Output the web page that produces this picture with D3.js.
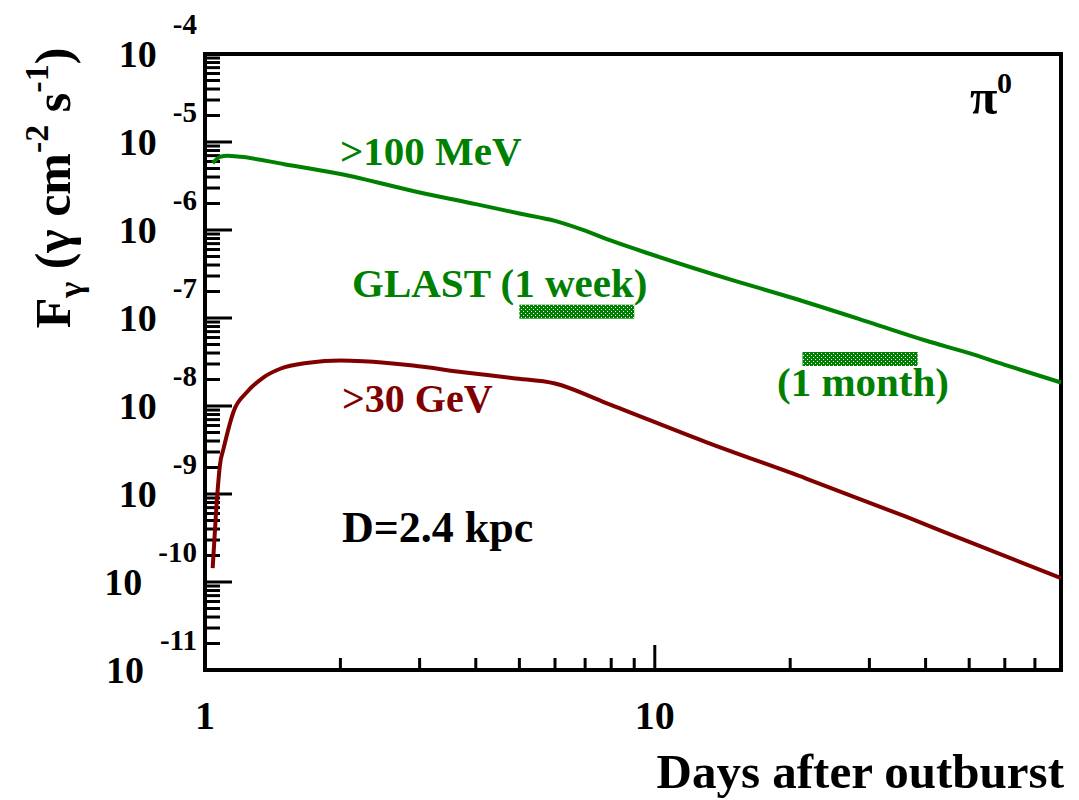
<!DOCTYPE html>
<html>
<head>
<meta charset="utf-8">
<script src="https://cdn.jsdelivr.net/npm/d3@7"></script>
<style>
  html, body { margin: 0; padding: 0; background: #fff; }
  svg { display: block; font-family: "Liberation Serif", "Times New Roman", serif; font-weight: bold; }
</style>
</head>
<body>
<svg id="chart" width="1079" height="800"></svg>
<script>
// Days after outburst and integrated photon flux (photons cm^-2 s^-1)
const greenDays = [1.04, 1.08, 1.12, 1.2, 1.5, 2, 3, 4, 5, 6, 7, 8, 10, 15, 20, 30, 40, 50, 60, 80];
const greenFlux = [5.75e-6, 6.78e-6, 6.97e-6, 6.78e-6, 5.60e-6, 4.32e-6, 2.67e-6, 1.97e-6, 1.54e-6, 1.27e-6,
                   9.82e-7, 7.55e-7, 5.13e-7, 2.66e-7, 1.72e-7, 8.93e-8, 5.55e-8, 3.98e-8, 2.94e-8, 1.85e-8];

const redDays = [1.04, 1.06, 1.08, 1.1, 1.16, 1.24, 1.35, 1.47, 1.7, 2, 2.25, 2.9, 3.75, 4.85, 6.0, 7.8, 13, 21.7, 36.3, 51, 80];
const redFlux = [1.44e-10, 7.1e-10, 2.17e-9, 3.3e-9, 8.9e-9, 1.44e-8, 2.12e-8, 2.65e-8, 3.10e-8, 3.29e-8, 3.23e-8,
                 2.88e-8, 2.42e-8, 2.07e-8, 1.80e-8, 1.08e-8, 3.89e-9, 1.50e-9, 5.48e-10, 2.74e-10, 1.11e-10];

// GLAST sensitivity for one week and one month of exposure
const glastNames = ["1 week", "1 month"];
const glastStart = [5, 21.3];
const glastEnd = [9, 38.4];
const glastFlux = [1.18e-7, 3.42e-8];

// Axis ticks
const xMinorTicks = [2, 3, 4, 5, 6, 7, 8, 9, 20, 30, 40, 50, 60, 70, 80];
const xMajorTicks = [1, 10];
const xTickLabels = ["1", "10"];
const yExponents = [-11, -10, -9, -8, -7, -6, -5, -4];

const svg = d3.select("#chart");
const GREEN = "#008000", RED = "#800000";

const x = d3.scaleLog().domain([1, 80]).range([205, 1061]);
const y = d3.scaleLog().domain([1e-11, 1e-4]).range([670, 54]);

// crosshatch fill for the sensitivity bands
const defs = svg.append("defs");
const pat = defs.append("pattern").attr("id", "hatch").attr("patternUnits", "userSpaceOnUse")
  .attr("width", 4).attr("height", 4);
pat.append("rect").attr("width", 4).attr("height", 4).attr("fill", GREEN);
pat.append("rect").attr("x", 1).attr("y", 1).attr("width", 1).attr("height", 1).attr("fill", "#fff");
pat.append("rect").attr("x", 3).attr("y", 3).attr("width", 1).attr("height", 1).attr("fill", "#fff");

// y minor ticks: 2..9 in each decade
const yMinor = [];
yExponents.slice(0, -1).forEach(e => { for (let m = 2; m <= 9; m++) yMinor.push(m * Math.pow(10, e)); });
const yMajor = yExponents.map(e => Math.pow(10, e));

const axisG = svg.append("g").attr("stroke", "#000").attr("stroke-width", 3);
axisG.selectAll("line.ymin").data(yMinor).join("line")
  .attr("x1", x(1)).attr("x2", x(1) + 15).attr("y1", d => y(d)).attr("y2", d => y(d));
axisG.selectAll("line.ymaj").data(yMajor).join("line")
  .attr("x1", x(1)).attr("x2", x(1) + 27).attr("y1", d => y(d)).attr("y2", d => y(d));
axisG.selectAll("line.xmin").data(xMinorTicks).join("line")
  .attr("x1", d => x(d)).attr("x2", d => x(d)).attr("y1", y(1e-11)).attr("y2", y(1e-11) - 12);
axisG.selectAll("line.xmaj").data(xMajorTicks).join("line")
  .attr("x1", d => x(d)).attr("x2", d => x(d)).attr("y1", y(1e-11)).attr("y2", y(1e-11) - 25);

// frame
svg.append("rect").attr("x", x(1)).attr("y", y(1e-4)).attr("width", x(80) - x(1)).attr("height", y(1e-11) - y(1e-4))
  .attr("fill", "none").attr("stroke", "#000").attr("stroke-width", 4);

// y tick labels: 10 with superscript exponent
yExponents.forEach(e => {
  const yy = y(Math.pow(10, e));
  const sup = svg.append("text").attr("x", 197).attr("y", yy - 20).attr("text-anchor", "end")
    .attr("font-size", 29).text(String(e));
  const w = sup.node().getComputedTextLength();
  svg.append("text").attr("x", 197 - w - 16).attr("y", yy + 13).attr("text-anchor", "end")
    .attr("font-size", 38).text("10");
});

// x tick labels
svg.selectAll("text.xlab").data(xMajorTicks).join("text")
  .attr("x", d => x(d)).attr("y", 729).attr("text-anchor", "middle").attr("font-size", 40)
  .text((d, i) => xTickLabels[i]);

// x title
svg.append("text").attr("x", 1064).attr("y", 788).attr("text-anchor", "end").attr("font-size", 49)
  .text("Days after outburst");

// y title
const yt = svg.append("text").attr("transform", "translate(70,188) rotate(-90)")
  .attr("text-anchor", "middle").attr("font-size", 50);
yt.append("tspan").text("F");
yt.append("tspan").attr("dy", 12).attr("font-size", 34).text("γ");
yt.append("tspan").attr("dy", -12).text(" (γ cm");
yt.append("tspan").attr("dy", -22).attr("font-size", 34).text("-2");
yt.append("tspan").attr("dy", 22).text(" s");
yt.append("tspan").attr("dy", -22).attr("font-size", 34).text("-1");
yt.append("tspan").attr("dy", 22).text(")");

// curves
const line = d3.line().x(d => x(d[0])).y(d => y(d[1])).curve(d3.curveMonotoneX);
svg.append("path").datum(greenDays.map((d, i) => [d, greenFlux[i]])).attr("d", line)
  .attr("fill", "none").attr("stroke", GREEN).attr("stroke-width", 4).attr("stroke-linejoin", "round");
svg.append("path").datum(redDays.map((d, i) => [d, redFlux[i]])).attr("d", line)
  .attr("fill", "none").attr("stroke", RED).attr("stroke-width", 4).attr("stroke-linejoin", "round");

// sensitivity bands
svg.selectAll("rect.glast").data(glastNames).join("rect")
  .attr("x", (d, i) => x(glastStart[i])).attr("width", (d, i) => x(glastEnd[i]) - x(glastStart[i]))
  .attr("y", (d, i) => y(glastFlux[i]) - 7).attr("height", 14).attr("fill", "url(#hatch)");

// annotations
const note = (tx, ty, txt, size, col) => svg.append("text").attr("x", tx).attr("y", ty)
  .attr("font-size", size).attr("fill", col).text(txt);
note(340, 165, ">100 MeV", 41, GREEN);
note(352, 297, "GLAST (" + glastNames[0] + ")", 41, GREEN);
note(777, 396, "(" + glastNames[1] + ")", 41, GREEN);
note(342, 412, ">30 GeV", 40, RED);
note(342, 542, "D=2.4 kpc", 44, "#000");
note(970, 114, "π", 50, "#000");
note(997, 93, "0", 30, "#000");
</script>
</body>
</html>
